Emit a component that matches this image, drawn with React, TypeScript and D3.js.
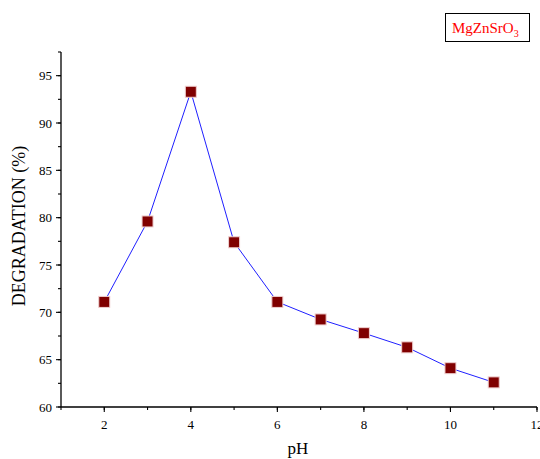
import React from "react";
import * as d3 from "d3";

const phValues = [2, 3, 4, 5, 6, 7, 8, 9, 10, 11];
const degradation = [71.1, 79.6, 93.3, 77.4, 71.1, 69.25, 67.8, 66.3, 64.1, 62.6];
const xTicks = [2, 4, 6, 8, 10, 12];
const yTicks = [60, 65, 70, 75, 80, 85, 90, 95];
const seriesName = "MgZnSrO";
const seriesSub = "3";

export default function App() {
  const W = 540, H = 459;
  const x = d3.scaleLinear().domain([1, 12]).range([61, 537]);
  const y = d3.scaleLinear().domain([60, 97.5]).range([407, 52]);
  const line = d3.line<number>().x((_, i) => x(phValues[i])).y((d) => y(d));
  const xMinor = d3.range(1, 12.01, 1);
  const yMinor = d3.range(60, 97.51, 2.5);
  const font = "Liberation Serif";
  return (
    <svg width={W} height={H} style={{ position: "absolute", left: 0, top: 0, fontFamily: font }}>
      <rect width={W} height={H} fill="white" />
      <line x1={x(1)} x2={x(12)} y1={y(60)} y2={y(60)} stroke="black" strokeWidth={1.3} />
      <line x1={x(1)} x2={x(1)} y1={y(60)} y2={y(97.5)} stroke="black" strokeWidth={1.3} />
      {xMinor.map((t) => (
        <line key={"xm" + t} x1={x(t)} x2={x(t)} y1={y(60)} y2={y(60) + 3} stroke="black" strokeWidth={1.1} />
      ))}
      {xTicks.map((t) => (
        <g key={"x" + t}>
          <line x1={x(t)} x2={x(t)} y1={y(60)} y2={y(60) + 5} stroke="black" strokeWidth={1.1} />
          <text x={x(t)} y={y(60) + 22} textAnchor="middle" fontSize={13}>{t}</text>
        </g>
      ))}
      {yMinor.map((t) => (
        <line key={"ym" + t} x1={x(1)} x2={x(1) - 3} y1={y(t)} y2={y(t)} stroke="black" strokeWidth={1.1} />
      ))}
      {yTicks.map((t) => (
        <g key={"y" + t}>
          <line x1={x(1)} x2={x(1) - 5} y1={y(t)} y2={y(t)} stroke="black" strokeWidth={1.1} />
          <text x={x(1) - 9} y={y(t) + 4.5} textAnchor="end" fontSize={13}>{t}</text>
        </g>
      ))}
      <text x={298} y={454} textAnchor="middle" fontSize={17}>pH</text>
      <text transform={`translate(25,226) rotate(-90)`} textAnchor="middle" fontSize={18}>DEGRADATION (%)</text>
      <path d={line(degradation) || ""} fill="none" stroke="#2020ff" strokeWidth={1} />
      {degradation.map((d, i) => (
        <rect key={i} x={x(phValues[i]) - 5.5} y={y(d) - 5.5} width={11} height={11} fill="#800000" stroke="#f0d0d0" strokeWidth={1} />
      ))}
      <rect x={445.5} y={13.5} width={84} height={28} fill="white" stroke="black" strokeWidth={1} />
      <text x={452} y={33} fontSize={15} fill="#ff0000">
        {seriesName}
        <tspan fontSize={10} dy={4}>{seriesSub}</tspan>
      </text>
    </svg>
  );
}
